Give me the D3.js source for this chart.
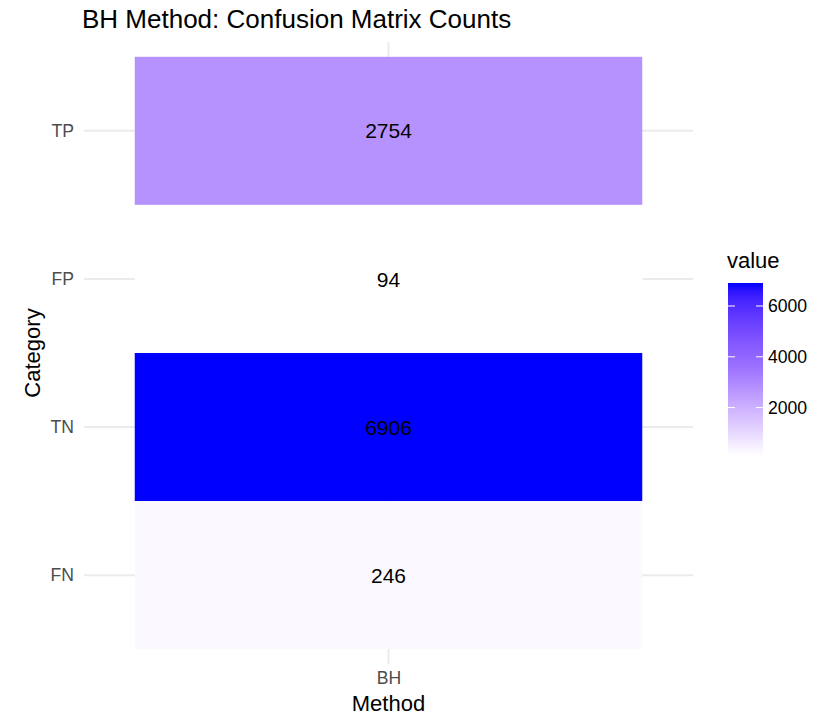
<!DOCTYPE html>
<html><head><meta charset="utf-8">
<script src="https://cdn.jsdelivr.net/npm/d3@7"></script>
<style>body{margin:0;background:#fff;} text{font-family:"Liberation Sans",Arial,Helvetica,sans-serif;}</style>
</head><body>
<svg id="chart" width="813" height="717"></svg>
<script>
const categories = ["TP","FP","TN","FN"];
const methods = ["BH"];
const values = [2754, 94, 6906, 246];
const legendTicks = [2000, 4000, 6000];

const svg = d3.select("#chart");
const panel = {left: 84, right: 693, top: 42, bottom: 664};

// Discrete scales with ggplot-like 0.6 expansion
const x = d3.scalePoint().domain(methods).range([panel.left, panel.right]).padding(0.6);
const y = d3.scalePoint().domain(categories).range([panel.top, panel.bottom]).padding(0.6);
const xUnit = (panel.right - panel.left) / (methods.length - 1 + 1.2);
const yUnit = (panel.bottom - panel.top) / (categories.length - 1 + 1.2);

const vmin = d3.min(values), vmax = d3.max(values);
const color = d3.scaleLinear()
  .domain([vmin, (vmin + vmax) / 2, vmax])
  .range(["#ffffff", "#9e74ff", "#0000ff"])
  .interpolate(d3.interpolateLab);

const data = categories.map((c, i) => ({method: methods[0], cat: c, value: values[i]}));

// gridlines
const grid = svg.append("g");
categories.forEach(c => {
  grid.append("line").attr("x1", panel.left).attr("x2", panel.right)
    .attr("y1", y(c)).attr("y2", y(c)).attr("stroke", "#ebebeb").attr("stroke-width", 2);
});
methods.forEach(m => {
  grid.append("line").attr("x1", x(m)).attr("x2", x(m))
    .attr("y1", panel.top).attr("y2", panel.bottom).attr("stroke", "#ebebeb").attr("stroke-width", 2);
});

// tiles
svg.append("g").selectAll("rect").data(data).join("rect")
  .attr("x", d => x(d.method) - xUnit / 2)
  .attr("y", d => y(d.cat) - yUnit / 2)
  .attr("width", xUnit).attr("height", yUnit)
  .attr("fill", d => color(d.value));

// labels
svg.append("g").selectAll("text").data(data).join("text")
  .attr("x", d => x(d.method)).attr("y", d => y(d.cat))
  .attr("dy", "0.36em").attr("text-anchor", "middle")
  .attr("font-size", 21).attr("fill", "#000")
  .text(d => d.value);

// axes tick labels
const yAxis = svg.append("g").attr("transform", `translate(${panel.left},0)`)
  .call(d3.axisLeft(y).tickSize(0).tickPadding(10));
yAxis.select(".domain").remove();
yAxis.selectAll("text").attr("font-size", 17.6).attr("fill", "#4d4d4d")
  .style("font-family", '"Liberation Sans",Arial,sans-serif');

const xAxis = svg.append("g").attr("transform", `translate(0,${panel.bottom})`)
  .call(d3.axisBottom(x).tickSize(0).tickPadding(8));
xAxis.select(".domain").remove();
xAxis.selectAll("text").attr("font-size", 17.6).attr("fill", "#4d4d4d")
  .style("font-family", '"Liberation Sans",Arial,sans-serif');

// axis titles
svg.append("text").attr("x", (panel.left + panel.right) / 2).attr("y", 711)
  .attr("text-anchor", "middle").attr("font-size", 22).text("Method");
svg.append("text").attr("transform", `translate(40,${(panel.top + panel.bottom) / 2}) rotate(-90)`)
  .attr("text-anchor", "middle").attr("font-size", 22).text("Category");

// title
svg.append("text").attr("x", 82).attr("y", 28).attr("font-size", 26).text("BH Method: Confusion Matrix Counts");

// legend
const lg = {x: 728, w: 35, top: 283, bottom: 456};
const ly = d3.scaleLinear().domain([vmin, vmax]).range([lg.bottom, lg.top]);
const defs = svg.append("defs");
const grad = defs.append("linearGradient").attr("id", "lg").attr("x1", 0).attr("x2", 0).attr("y1", 1).attr("y2", 0);
d3.range(0, 1.0001, 0.05).forEach(t => {
  grad.append("stop").attr("offset", t).attr("stop-color", color(vmin + t * (vmax - vmin)));
});
svg.append("rect").attr("x", lg.x).attr("y", lg.top).attr("width", lg.w).attr("height", lg.bottom - lg.top).attr("fill", "url(#lg)");
legendTicks.forEach(v => {
  svg.append("line").attr("x1", lg.x).attr("x2", lg.x + 7).attr("y1", ly(v)).attr("y2", ly(v)).attr("stroke", "#fff").attr("stroke-width", 1);
  svg.append("line").attr("x1", lg.x + lg.w - 7).attr("x2", lg.x + lg.w).attr("y1", ly(v)).attr("y2", ly(v)).attr("stroke", "#fff").attr("stroke-width", 1);
  svg.append("text").attr("x", lg.x + lg.w + 5).attr("y", ly(v)).attr("dy", "0.36em").attr("font-size", 17.6).attr("fill", "#000").text(v);
});
svg.append("text").attr("x", 727).attr("y", 268).attr("font-size", 22).text("value");
</script>
</body></html>
